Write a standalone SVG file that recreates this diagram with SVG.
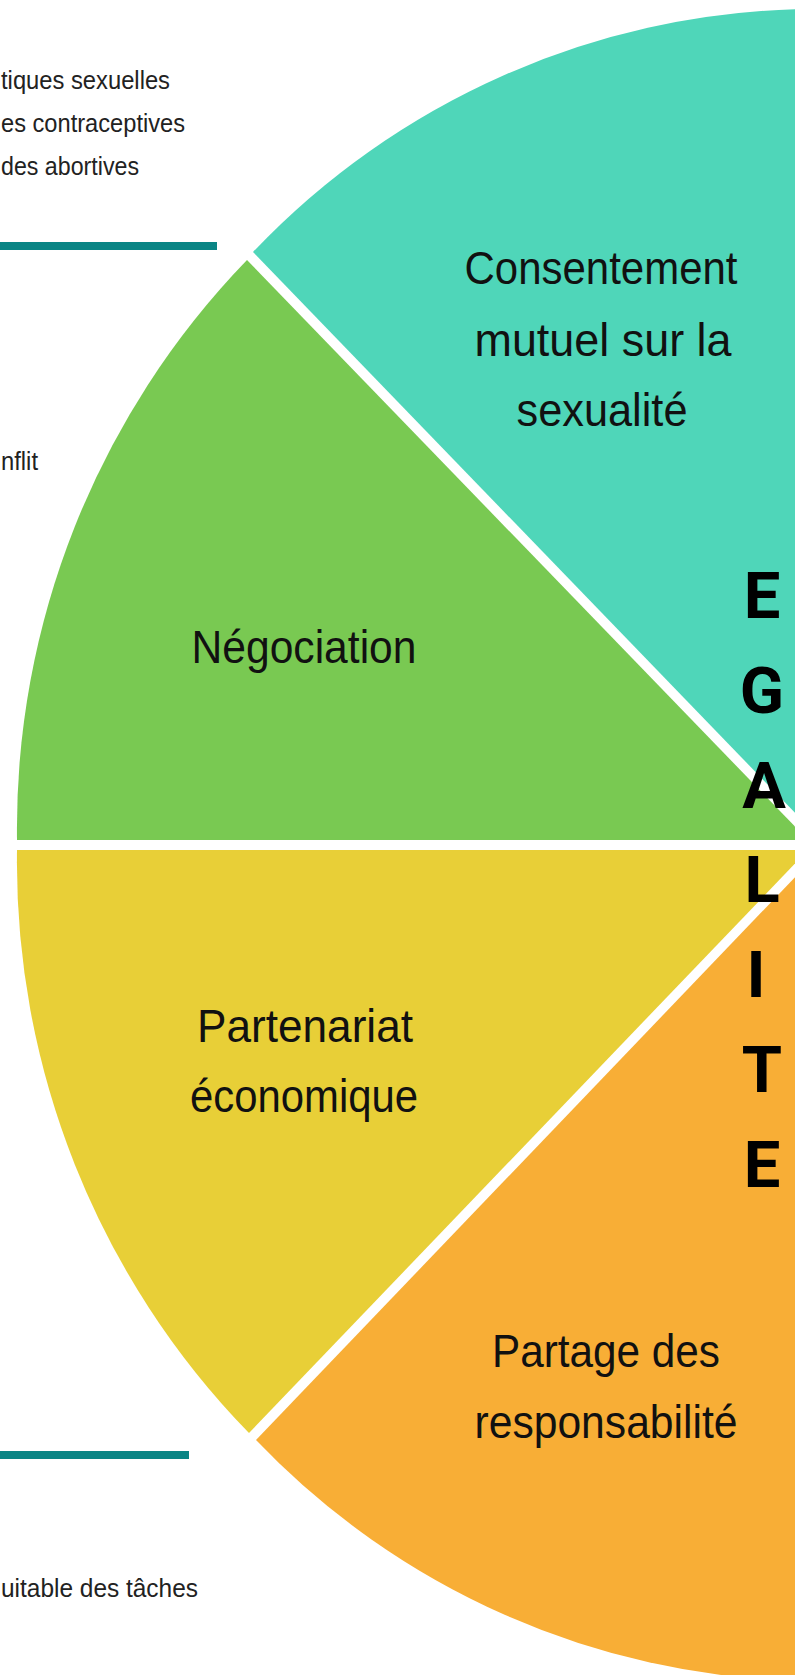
<svg xmlns="http://www.w3.org/2000/svg" width="795" height="1675" viewBox="0 0 795 1675">
<style>
.lbl{font-family:"Liberation Sans","DejaVu Sans",sans-serif;font-size:46px;fill:#111;text-anchor:middle}
.side{font-family:"Liberation Sans","DejaVu Sans",sans-serif;font-size:25px;fill:#222}
.egal{font-family:Roboto,"DejaVu Sans",sans-serif;font-weight:bold;font-size:65px;fill:#000;text-anchor:middle}
.bar{fill:#0A8585}
</style>
<rect width="795" height="1675" fill="#ffffff"/>
<g id="side-texts">
<text class="side" x="1" y="89" textLength="169" lengthAdjust="spacingAndGlyphs">tiques sexuelles</text>
<text class="side" x="1" y="132" textLength="184" lengthAdjust="spacingAndGlyphs">es contraceptives</text>
<text class="side" x="1" y="175" textLength="138" lengthAdjust="spacingAndGlyphs">des abortives</text>
<text class="side" x="1" y="470" textLength="37" lengthAdjust="spacingAndGlyphs">nflit</text>
<text class="side" x="1" y="1597" textLength="197" lengthAdjust="spacingAndGlyphs">uitable des tâches</text>
</g>
<g id="bars">
<rect class="bar" x="0" y="242" width="217" height="8"/>
<rect class="bar" x="0" y="1451" width="189" height="8"/>
</g>
<g id="consentement">
<path d="M253,252 A779,779 0 0 1 800,9.2 L800,818 Z" fill="#4FD6B9"/>
<text class="lbl" x="601" y="284" textLength="273" lengthAdjust="spacingAndGlyphs">Consentement</text>
<text class="lbl" x="603" y="356" textLength="257" lengthAdjust="spacingAndGlyphs">mutuel sur la</text>
<text class="lbl" x="602" y="426" textLength="171" lengthAdjust="spacingAndGlyphs">sexualité</text>
</g>
<g id="negociation">
<path d="M808,840 L247,260 A818,818 0 0 0 17,840 Z" fill="#79C952"/>
<text class="lbl" x="304" y="663" textLength="225" lengthAdjust="spacingAndGlyphs">Négociation</text>
</g>
<g id="partenariat">
<path d="M808,850 L17,850 A818,818 0 0 0 249,1433 Z" fill="#E8CF37"/>
<text class="lbl" x="305" y="1042" textLength="216" lengthAdjust="spacingAndGlyphs">Partenariat</text>
<text class="lbl" x="304" y="1112" textLength="228" lengthAdjust="spacingAndGlyphs">économique</text>
</g>
<g id="partage">
<path d="M256,1440 A779,779 0 0 0 800,1681 L800,872 Z" fill="#F8AE36"/>
<text class="lbl" x="606" y="1367" textLength="228" lengthAdjust="spacingAndGlyphs">Partage des</text>
<text class="lbl" x="606" y="1438" textLength="263" lengthAdjust="spacingAndGlyphs">responsabilité</text>
</g>
<g id="egalite">
<text class="egal" x="762" y="618">E</text>
<text class="egal" x="762" y="713">G</text>
<text class="egal" x="764" y="808">A</text>
<text class="egal" x="762" y="902">L</text>
<text class="egal" x="756" y="997">I</text>
<text class="egal" x="762" y="1092">T</text>
<text class="egal" x="762" y="1187">E</text>
</g>
<g id="connectors"/>
</svg>
